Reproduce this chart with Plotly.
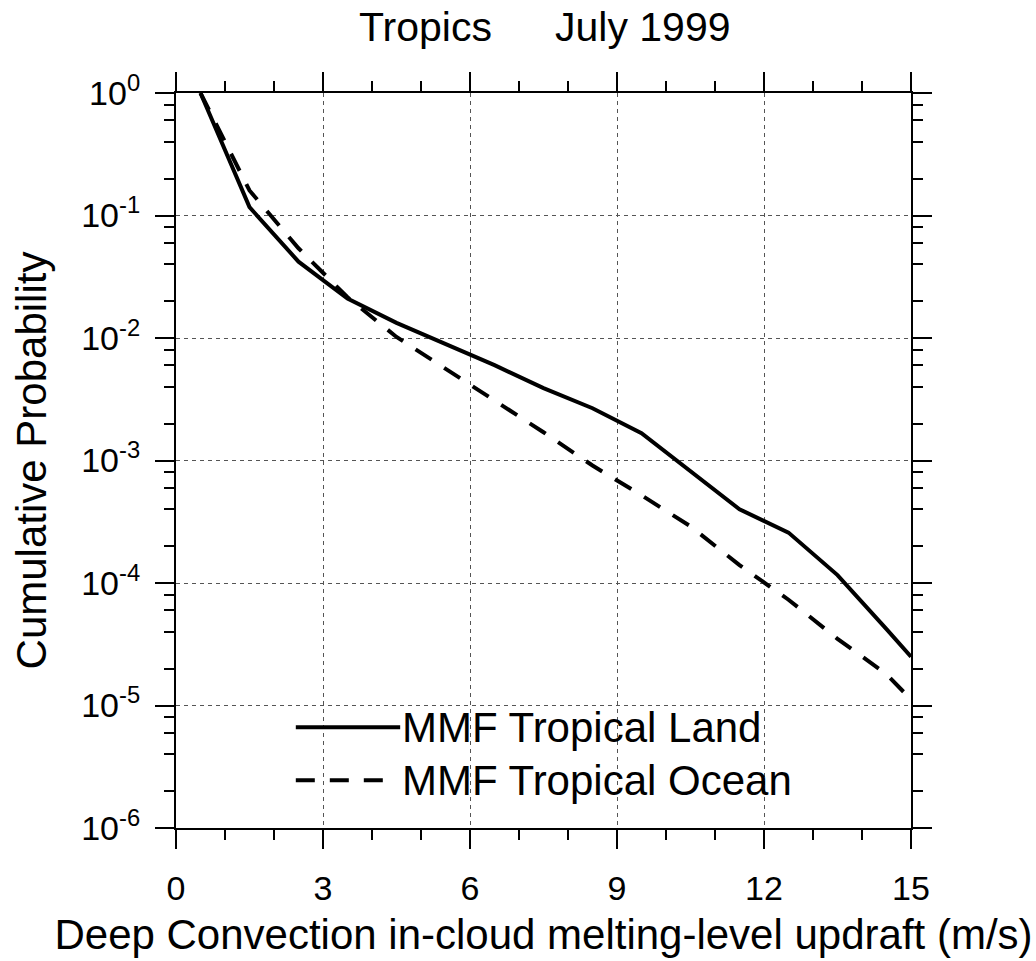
import plotly.graph_objects as go

# ---- data ----
updraft = [0.5, 1.5, 2.5, 3.5, 4.5, 5.5, 6.5, 7.5, 8.5, 9.5, 10.5, 11.5, 12.5, 13.5, 14.5, 15.0]
land = [1.0, 0.117, 0.042, 0.021, 0.0133, 0.0089, 0.0060, 0.0039, 0.00267, 0.00167,
        0.00081, 0.00040, 0.000258, 0.000116, 4.2e-5, 2.5e-5]
ocean = [1.0, 0.16, 0.054, 0.0215, 0.0102, 0.0056, 0.0031, 0.0017, 0.00091, 0.00052,
         0.00029, 0.00014, 7.3e-5, 3.5e-5, 1.8e-5, 1.12e-5]

x_ticks = [0, 3, 6, 9, 12, 15]
y_exps = [-6, -5, -4, -3, -2, -1, 0]
series_names = ["MMF Tropical Land", "MMF Tropical Ocean"]
title_left = "Tropics"
title_right = "July 1999"
x_title = "Deep Convection in-cloud melting-level updraft (m/s)"
y_title = "Cumulative Probability"

FONT = "Liberation Sans, Arial, Helvetica, sans-serif"
DASH = "19px,15px"
BIG = 42

fig = go.Figure()
fig.add_trace(go.Scatter(x=updraft, y=land, mode="lines", name=series_names[0],
                         line=dict(color="black", width=4), showlegend=False))
fig.add_trace(go.Scatter(x=updraft, y=ocean, mode="lines", name=series_names[1],
                         line=dict(color="black", width=4, dash=DASH), showlegend=False))

y_vals = [10.0 ** e for e in y_exps]
y_text = ["10<sup>%d</sup>" % e for e in y_exps]
y_minor = [m * 10.0 ** e for e in y_exps[:-1] for m in (2, 4, 6, 8)]

fig.update_xaxes(range=[0, 15], tickmode="array", tickvals=x_ticks,
                 ticktext=[str(v) for v in x_ticks],
                 ticks="outside", ticklen=19, tickwidth=2, tickcolor="black",
                 showline=True, linewidth=2, linecolor="black", mirror="ticks",
                 showgrid=True, gridcolor="#555555", gridwidth=1, griddash="4px,4px",
                 zeroline=False, ticklabelstandoff=10,
                 tickfont=dict(size=34, color="black", family=FONT),
                 minor=dict(dtick=1, ticks="outside", ticklen=10, tickwidth=1.5,
                            tickcolor="black", showgrid=False),
                 title=dict(text=x_title, font=dict(size=BIG, color="black", family=FONT),
                            standoff=14))
fig.update_yaxes(type="log", range=[-6, 0], tickmode="array", tickvals=y_vals,
                 ticktext=y_text,
                 ticks="outside", ticklen=19, tickwidth=2, tickcolor="black",
                 showline=True, linewidth=2, linecolor="black", mirror="ticks",
                 showgrid=True, gridcolor="#555555", gridwidth=1, griddash="4px,4px",
                 zeroline=False, ticklabelstandoff=8,
                 tickfont=dict(size=34, color="black", family=FONT),
                 minor=dict(tickmode="array", tickvals=y_minor, ticks="outside",
                            ticklen=10, tickwidth=1.5, tickcolor="black", showgrid=False),
                 title=dict(text=y_title, font=dict(size=BIG, color="black", family=FONT),
                            standoff=22))

# manual legend (long line samples as in the reference)
legend_rows = [(series_names[0], "solid", 0.137, 0.305), (series_names[1], DASH, 0.065, 0.287)]
for name, dash, yy, xend in legend_rows:
    fig.add_shape(type="line", xref="paper", yref="paper", x0=0.163, x1=xend,
                  y0=yy, y1=yy, line=dict(color="black", width=4, dash=dash))
    fig.add_annotation(xref="paper", yref="paper", x=0.305, y=yy, text=name,
                       showarrow=False, xanchor="left", yanchor="middle",
                       font=dict(size=BIG, color="black", family=FONT))

# title (two parts with a wide gap)
fig.add_annotation(xref="paper", yref="paper", x=0.432, y=1.0, yshift=66,
                   text=title_left, showarrow=False, xanchor="right", yanchor="middle",
                   font=dict(size=41, color="black", family=FONT))
fig.add_annotation(xref="paper", yref="paper", x=0.513, y=1.0, yshift=66,
                   text=title_right, showarrow=False, xanchor="left", yanchor="middle",
                   font=dict(size=41, color="black", family=FONT))

fig.update_layout(width=1036, height=961,
                  margin=dict(l=176, r=125, t=93, b=133, autoexpand=False),
                  paper_bgcolor="white", plot_bgcolor="white",
                  font=dict(family=FONT, color="black"))

fig.write_html("out.html")
